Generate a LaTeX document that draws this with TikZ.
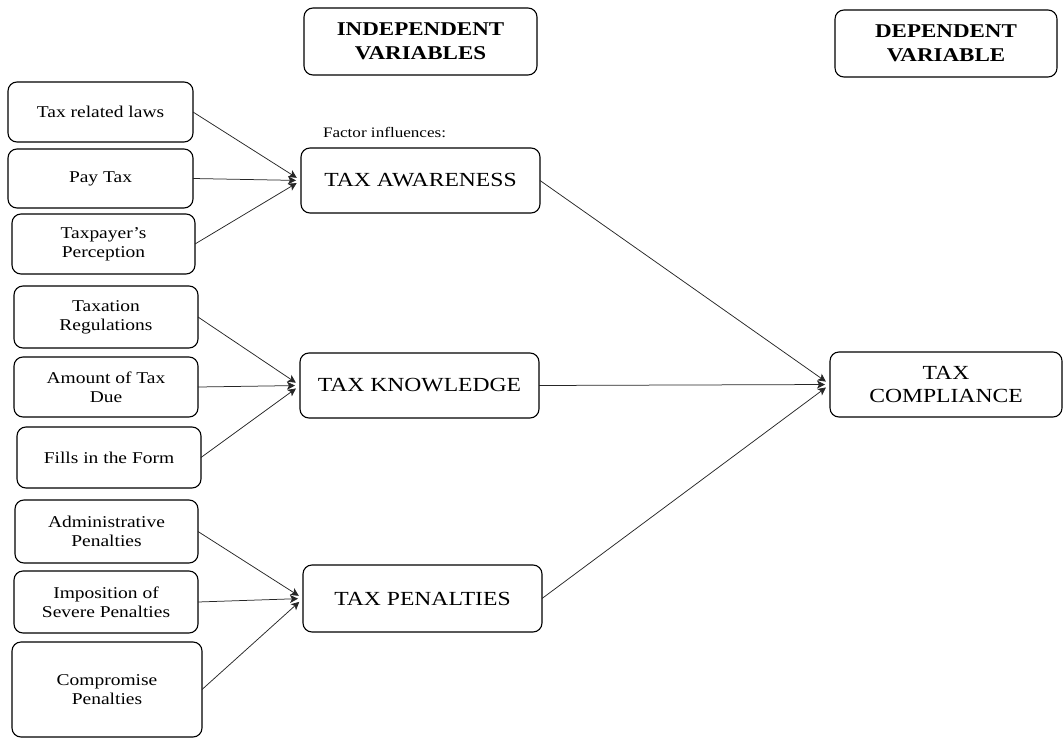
\documentclass[tikz,border=0pt]{standalone}
\usepackage{fontspec}
\setmainfont{Liberation Serif}[FakeStretch=1.18]
\usepackage{tikz}
\usetikzlibrary{arrows.meta,positioning}
\tikzset{
  blk/.style   ={draw=black,fill=white,line width=1.1pt,rounded corners=9pt,
                 align=center,inner sep=2pt,anchor=north west},
  src/.style   ={blk,font=\fontsize{16.5}{19}\selectfont},
  var/.style   ={blk,font=\fontsize{20}{23}\selectfont},
  head/.style  ={blk,font=\fontsize{19.5}{24}\selectfont\bfseries},
  lbl/.style   ={font=\fontsize{14.5}{16}\selectfont,inner sep=0pt},
  sig/.style   ={-{Stealth[length=8pt,width=8pt,inset=2pt]},draw=black!85,line width=0.75pt,
                 shorten >=5pt},
}

\begin{document}
\begin{tikzpicture}[x=1pt,y=1pt,every node/.style={outer sep=0pt}]
\useasboundingbox (0,0) rectangle (1064,-738);

% headers
\node[head,minimum width=233,minimum height=67] (hind) at (304,-8) {INDEPENDENT\\VARIABLES};
\node[head,minimum width=222,minimum height=67] (hdep) at (835,-10) {DEPENDENT\\VARIABLE};

% the three factors and the outcome
\node[lbl,anchor=base west] (fac) at (323,-138) {Factor influences:};
\node[var,minimum width=239,minimum height=65] (aw) at (301,-148) {TAX AWARENESS};
\node[var,minimum width=239,minimum height=65] (kn) at (300,-353) {TAX KNOWLEDGE};
\node[var,minimum width=239,minimum height=67] (pe) at (303,-565) {TAX PENALTIES};
\node[var,minimum width=232,minimum height=65] (co) at (830,-352) {TAX\\COMPLIANCE};

% indicators
\foreach \x/\y/\w/\h/\n/\lab in {
   8/82/185/60/l1/Tax related laws,
   8/149/185/59/l2/Pay Tax,
  12/214/183/60/l3/Taxpayer’s\\Perception,
  14/286/184/62/l4/Taxation\\Regulations,
  14/357/184/60/l5/Amount of Tax\\Due,
  17/427/184/61/l6/Fills in the Form,
  15/500/183/63/l7/Administrative\\Penalties,
  14/571/184/62/l8/Imposition of\\Severe Penalties,
  12/642/190/95/l9/Compromise\\Penalties}{
  \node[src,minimum width=\w,minimum height=\h] (\n) at (\x,-\y) {\lab};
}

\foreach \s/\t in {l1/aw,l2/aw,l3/aw,l4/kn,l5/kn,l6/kn,l7/pe,l8/pe,l9/pe}{
  \draw[sig] (\s.east) -- (\t.west);
}
\draw[sig] (aw.east) -- (co.west);
\draw[sig] (kn.east) -- (co.west);
\draw[sig] (pe.east) -- (co.west);
\end{tikzpicture}
\end{document}
